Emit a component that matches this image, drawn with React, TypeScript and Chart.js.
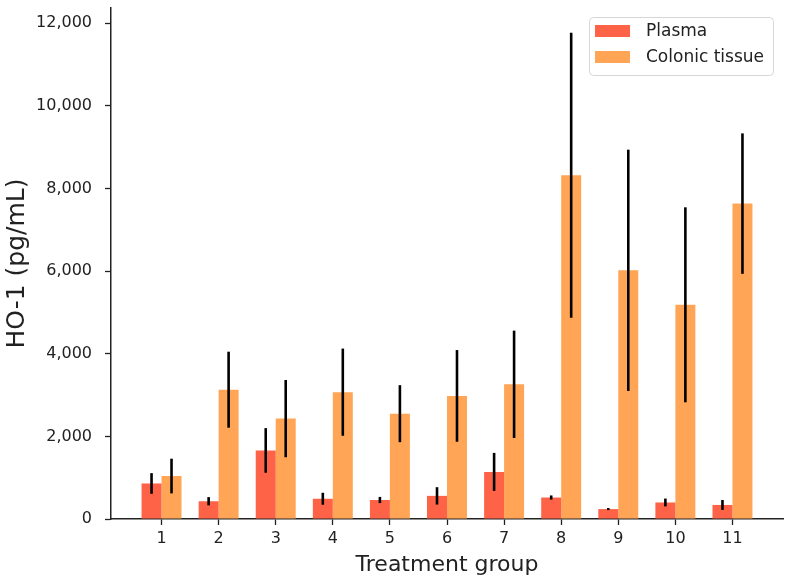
import React, { useEffect, useRef } from "react";
import { Chart, registerables } from "chart.js";

Chart.register(...registerables);

const categories = [1, 2, 3, 4, 5, 6, 7, 8, 9, 10, 11];
const plasma = [860, 430, 1660, 490, 460, 560, 1140, 520, 240, 400, 340];
const plasmaErr = [250, 100, 540, 145, 75, 210, 460, 50, 25, 95, 120];
const colonic = [1040, 3130, 2430, 3070, 2550, 2980, 3260, 8320, 6020, 5185, 7635];
const colonicErr = [420, 920, 935, 1055, 690, 1110, 1300, 3450, 2920, 2360, 1700];
const yTicks = [0, 2000, 4000, 6000, 8000, 10000, 12000];

const FONT = "'DejaVu Sans', sans-serif";
const PLASMA_COLOR = "#FF6347";
const COLONIC_COLOR = "#FFA555";

const errorBarPlugin = {
  id: "errorBars",
  afterDatasetsDraw(chart: any) {
    const ctx = chart.ctx;
    const yScale = chart.scales.y;
    ctx.save();
    ctx.strokeStyle = "#000";
    ctx.lineWidth = 2.6;
    chart.data.datasets.forEach((ds: any, d: number) => {
      const meta = chart.getDatasetMeta(d);
      meta.data.forEach((el: any, i: number) => {
        const v = ds.data[i].y;
        const e = ds.errors[i];
        ctx.beginPath();
        ctx.moveTo(el.x, yScale.getPixelForValue(v + e));
        ctx.lineTo(el.x, yScale.getPixelForValue(v - e));
        ctx.stroke();
      });
    });
    ctx.restore();
  },
};

const legendPlugin = {
  id: "boxLegend",
  afterDraw(chart: any) {
    const ctx = chart.ctx;
    const area = chart.chartArea;
    const right = area.right - 10;
    const w = 184;
    const left = right - w;
    const top = area.top + 9;
    const h = 58;
    ctx.save();
    ctx.fillStyle = "rgba(255,255,255,0.85)";
    ctx.strokeStyle = "#d6d6d6";
    ctx.lineWidth = 1;
    ctx.beginPath();
    ctx.roundRect(left + 0.5, top + 0.5, w, h, 4);
    ctx.fill();
    ctx.stroke();
    ctx.font = `17px ${FONT}`;
    ctx.textBaseline = "middle";
    ctx.textAlign = "left";
    chart.data.datasets.forEach((ds: any, d: number) => {
      const cy = top + 14 + d * 26;
      ctx.fillStyle = ds.backgroundColor;
      ctx.fillRect(left + 6, cy - 6, 35, 12);
      ctx.fillStyle = "#222";
      ctx.fillText(ds.label, left + 57, cy + 1);
    });
    ctx.restore();
  },
};

export default function App() {
  const ref = useRef<HTMLCanvasElement>(null);
  useEffect(() => {
    if (!ref.current) return;
    const chart = new Chart(ref.current, {
      type: "bar",
      data: {
        datasets: [
          {
            label: "Plasma",
            data: categories.map((c, i) => ({ x: c, y: plasma[i] })),
            backgroundColor: PLASMA_COLOR,
            borderWidth: 0,
            errors: plasmaErr,
          } as any,
          {
            label: "Colonic tissue",
            data: categories.map((c, i) => ({ x: c, y: colonic[i] })),
            backgroundColor: COLONIC_COLOR,
            borderWidth: 0,
            errors: colonicErr,
          } as any,
        ],
      },
      options: {
        responsive: false,
        animation: false,
        events: [],
        layout: { padding: { top: 8, right: 8, left: 0, bottom: 0 } },
        datasets: {
          bar: { categoryPercentage: 0.7, barPercentage: 1.0 },
        },
        plugins: {
          legend: { display: false },
          tooltip: { enabled: false },
        },
        scales: {
          x: {
            type: "linear",
            min: 0.115,
            max: 11.885,
            offset: false,
            afterBuildTicks: (scale: any) => {
              scale.ticks = categories.map((v) => ({ value: v }));
            },
            afterFit: (scale: any) => {
              scale.height = 66;
              scale.paddingLeft = 0;
              scale.paddingRight = 0;
            },
            ticks: {
              font: { family: FONT, size: 16 },
              color: "#222",
              padding: 4.2,
              maxRotation: 0,
              autoSkip: false,
              callback: (v: any) => String(v),
            },
            grid: {
              offset: false,
              drawOnChartArea: false,
              drawTicks: true,
              tickLength: 6,
              tickColor: "#222",
              tickWidth: 1.3,
            },
            border: { display: true, color: "#222", width: 1.5 },
            title: {
              display: true,
              text: "Treatment group",
              font: { family: FONT, size: 22 },
              color: "#222",
              padding: { top: 0, bottom: 6.4 },
            },
          },
          y: {
            type: "linear",
            min: 0,
            max: 12370,
            afterBuildTicks: (scale: any) => {
              scale.ticks = yTicks.map((v) => ({ value: v }));
            },
            afterFit: (scale: any) => {
              scale.width = 111;
              scale.paddingTop = 0;
              scale.paddingBottom = 0;
            },
            ticks: {
              font: { family: FONT, size: 16 },
              color: "#222",
              padding: 13,
              callback: (v: any) => Number(v).toLocaleString("en-US"),
            },
            grid: {
              drawOnChartArea: false,
              drawTicks: true,
              tickLength: 6,
              tickColor: "#222",
              tickWidth: 1.3,
            },
            border: { display: true, color: "#222", width: 1.5 },
            title: {
              display: true,
              text: "HO-1 (pg/mL)",
              font: { family: FONT, size: 25 },
              color: "#222",
              padding: { top: 2.4, bottom: 0 },
            },
          },
        },
      } as any,
      plugins: [errorBarPlugin, legendPlugin],
    });
    return () => chart.destroy();
  }, []);
  return (
    <div style={{ position: "absolute", left: 0, top: 0, width: 791, height: 585, background: "#fff" }}>
      <canvas ref={ref} width={791} height={585} />
    </div>
  );
}
